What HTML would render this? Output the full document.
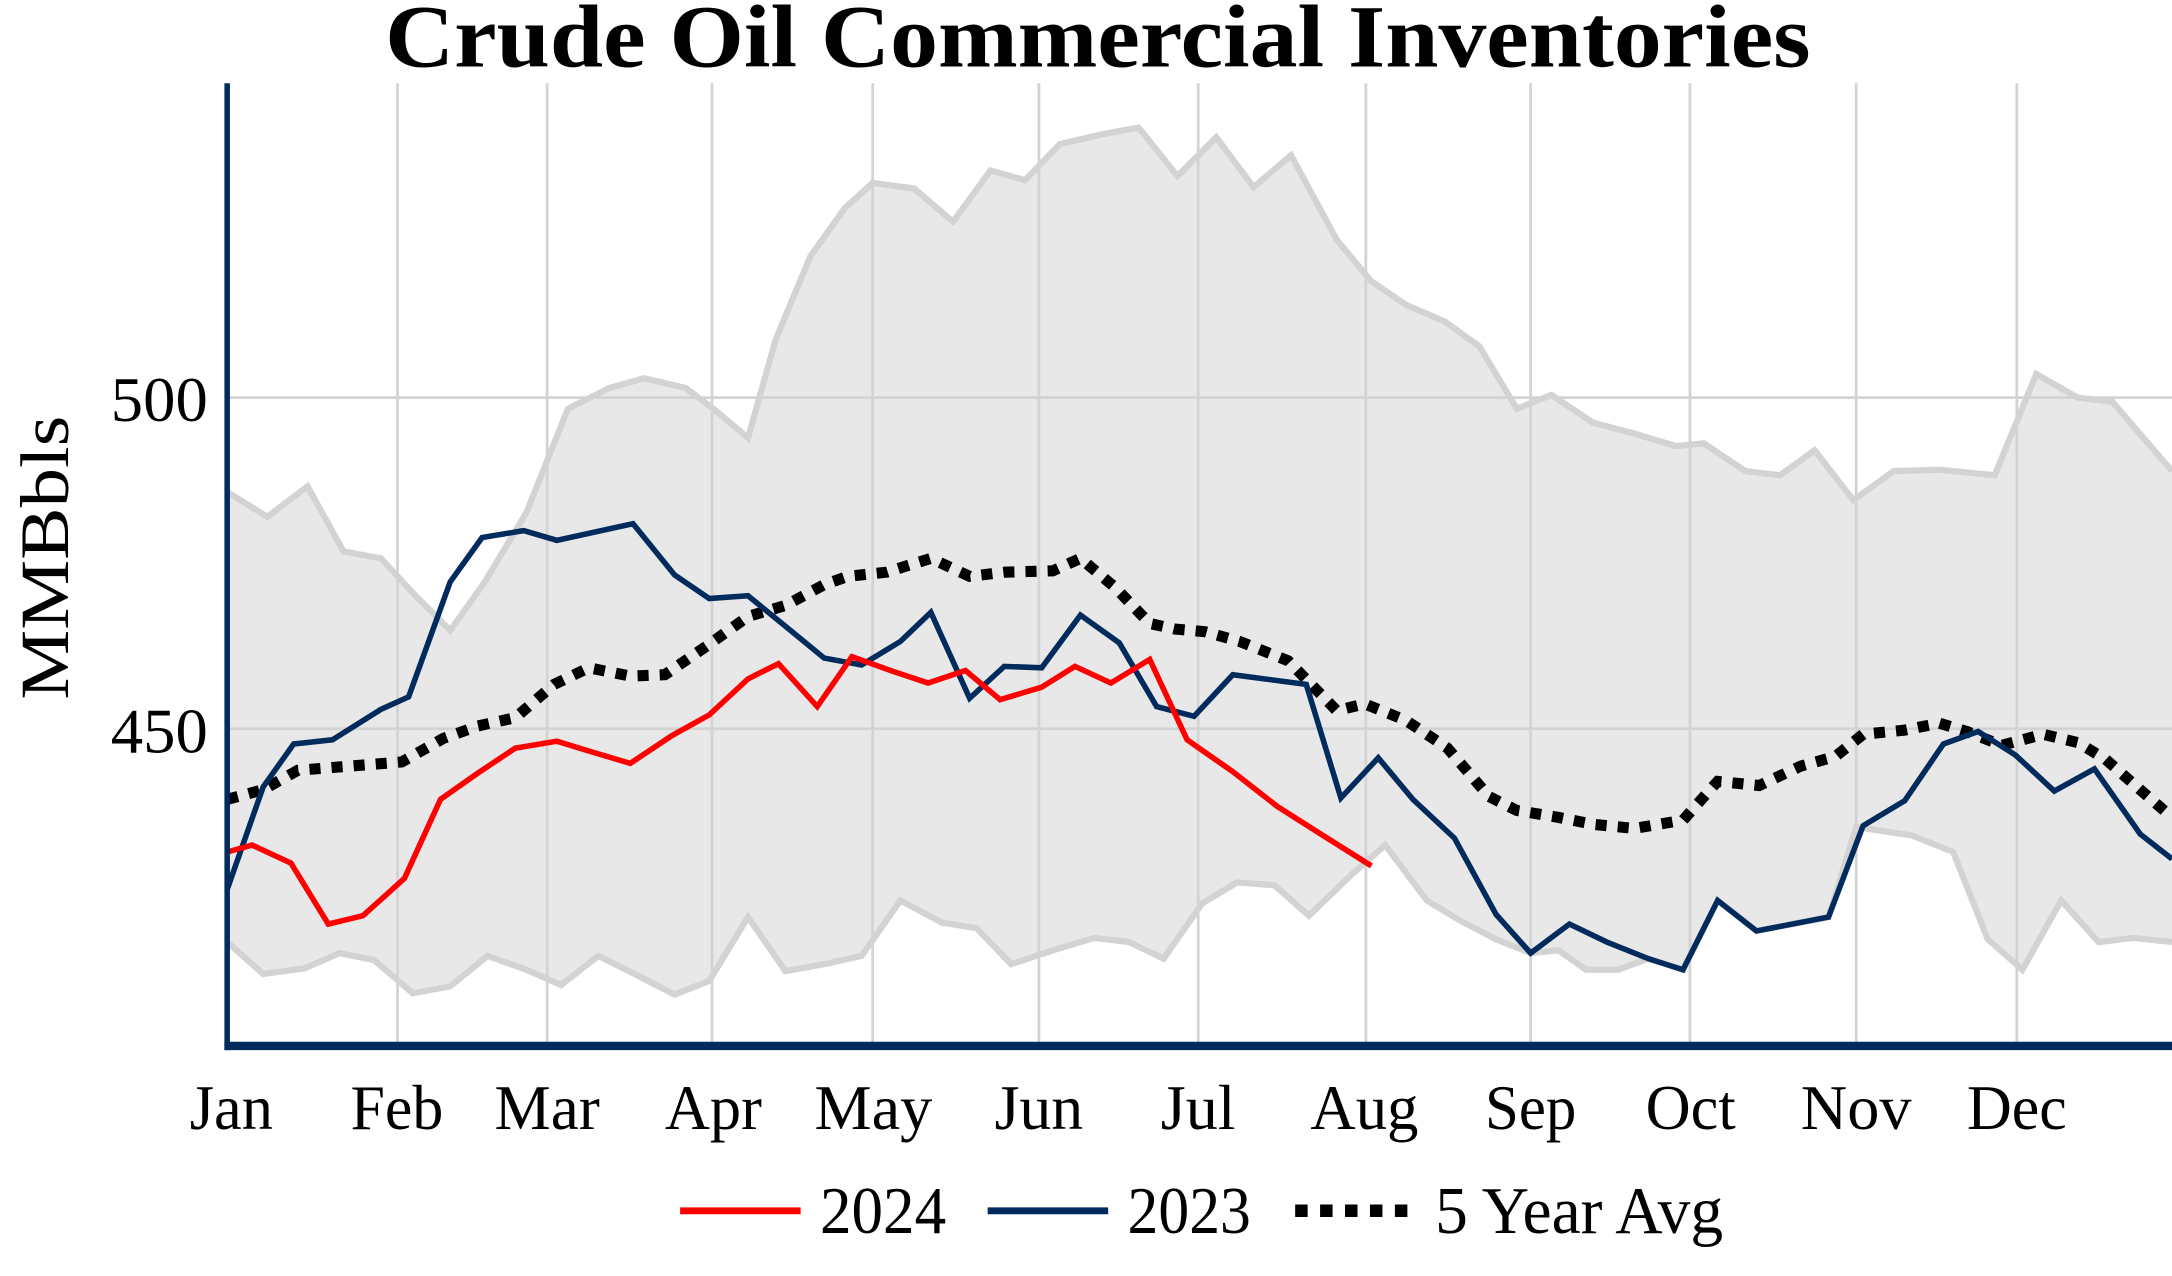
<!DOCTYPE html>
<html><head><meta charset="utf-8"><style>html,body{margin:0;padding:0;background:#fff}svg{display:block}</style></head>
<body>
<svg width="2172" height="1276" viewBox="0 0 1568 921" xmlns="http://www.w3.org/2000/svg" font-family="Liberation Serif, serif">
<rect width="1568" height="921" fill="#fff"/>
<polygon fill="#e8e8e8" points="164,355 193,373 222,351 248,398 275,403 300,430 325,455 350,420 380,370 410,295 440,280 465,273 495,280 515,295 540,316 560,245 585,185 610,150 630,132 660,136 688,160 715,123 740,130 765,104 795,97 822,92 850,127 878,99 905,135 932,112 965,173 990,203 1015,220 1043,232 1068,250 1095,295 1120,285 1150,305 1180,313 1210,322 1230,320 1260,340 1285,343 1310,325 1338,361 1367,340 1400,339 1440,343 1470,270 1500,287 1525,290 1568,340 1568,680 1540,677 1515,680 1488,650 1460,700 1435,678 1410,615 1380,603 1340,597 1320,662 1268,672 1240,650 1215,700 1190,692 1168,700 1145,700 1125,686 1105,688 1080,678 1055,665 1030,650 1000,610 975,632 945,661 920,639 893,637 868,652 840,692 815,680 790,677 760,686 730,696 705,670 680,666 650,650 622,690 595,696 567,701 540,662 512,708 487,718 460,704 432,690 405,711 380,700 352,690 325,712 298,717 270,693 245,688 220,699 190,703 164,680"/>
<g stroke="#d3d3d3" stroke-width="2">
<line x1="287" y1="60" x2="287" y2="755"/><line x1="395" y1="60" x2="395" y2="755"/><line x1="514" y1="60" x2="514" y2="755"/><line x1="630" y1="60" x2="630" y2="755"/><line x1="750" y1="60" x2="750" y2="755"/><line x1="865" y1="60" x2="865" y2="755"/><line x1="986" y1="60" x2="986" y2="755"/><line x1="1105" y1="60" x2="1105" y2="755"/><line x1="1220" y1="60" x2="1220" y2="755"/><line x1="1340" y1="60" x2="1340" y2="755"/><line x1="1456" y1="60" x2="1456" y2="755"/>
<line x1="164" y1="287" x2="1568" y2="287"/><line x1="164" y1="526" x2="1568" y2="526"/>
</g>
<g fill="none" stroke="#d3d3d3" stroke-width="4.5" stroke-linejoin="miter">
<polyline points="164,355 193,373 222,351 248,398 275,403 300,430 325,455 350,420 380,370 410,295 440,280 465,273 495,280 515,295 540,316 560,245 585,185 610,150 630,132 660,136 688,160 715,123 740,130 765,104 795,97 822,92 850,127 878,99 905,135 932,112 965,173 990,203 1015,220 1043,232 1068,250 1095,295 1120,285 1150,305 1180,313 1210,322 1230,320 1260,340 1285,343 1310,325 1338,361 1367,340 1400,339 1440,343 1470,270 1500,287 1525,290 1568,340"/>
<polyline points="164,680 190,703 220,699 245,688 270,693 298,717 325,712 352,690 380,700 405,711 432,690 460,704 487,718 512,708 540,662 567,701 595,696 622,690 650,650 680,666 705,670 730,696 760,686 790,677 815,680 840,692 868,652 893,637 920,639 945,661 975,632 1000,610 1030,650 1055,665 1080,678 1105,688 1125,686 1145,700 1168,700 1190,692 1215,700 1240,650 1268,672 1320,662 1340,597 1380,603 1410,615 1435,678 1460,700 1488,650 1515,680 1540,677 1568,680"/>
</g>
<polyline fill="none" stroke="#000" stroke-width="8" stroke-dasharray="8,8" points="164,577 190,570 215,556 240,554 290,550 320,533 345,524 372,518 400,494 425,482 455,488 480,487 512,465 540,445 567,437 595,422 612,416 640,413 672,403 700,416 725,413 760,412 780,403 805,424 830,450 848,454 870,456 895,463 930,477 965,513 985,508 1015,520 1045,540 1075,575 1095,585 1125,590 1150,595 1180,598 1215,592 1240,564 1270,567 1300,553 1325,546 1345,530 1375,527 1400,522 1420,528 1445,538 1475,530 1500,536 1520,548 1545,570 1568,590"/>
<polyline fill="none" stroke="#002b5c" stroke-width="4" points="164,642 190,568 212,537 240,534 275,512 295,503 325,420 348,388 378,383 402,390 457,378 487,415 512,432 540,430 567,452 595,475 622,480 650,463 672,442 700,504 725,481 752,482 780,444 808,464 835,510 862,517 890,487 943,494 968,576 995,547 1020,577 1050,605 1080,660 1105,688 1133,667 1160,680 1190,692 1215,700 1240,650 1268,672 1320,662 1345,596 1375,578 1403,537 1428,528 1455,545 1483,571 1512,555 1545,602 1568,620"/>
<polyline fill="none" stroke="#ff0000" stroke-width="4" points="164,615 182,610 210,623 237,667 262,661 292,634 318,577 345,558 372,540 402,535 428,543 455,551 485,531 512,516 540,490 562,479 590,510 615,474 643,484 670,493 697,484 722,505 752,496 776,481 802,493 830,476 857,534 890,557 922,582 955,603 990,625"/>
<line x1="164" y1="60" x2="164" y2="758" stroke="#002b5c" stroke-width="4"/>
<line x1="162" y1="755" x2="1568" y2="755" stroke="#002b5c" stroke-width="6"/>
<text x="278" y="48" font-weight="bold" font-size="64" textLength="1029" lengthAdjust="spacingAndGlyphs">Crude Oil Commercial Inventories</text>
<g font-size="46"><text x="80" y="304" textLength="70" lengthAdjust="spacingAndGlyphs">500</text><text x="80" y="543" textLength="70" lengthAdjust="spacingAndGlyphs">450</text></g>
<text transform="translate(49,505) rotate(-90)" font-size="50" textLength="205" lengthAdjust="spacingAndGlyphs">MMBbls</text>
<g font-size="46">
<text x="137" y="815" textLength="60" lengthAdjust="spacingAndGlyphs">Jan</text>
<text x="253" y="815" textLength="67" lengthAdjust="spacingAndGlyphs">Feb</text>
<text x="357" y="815" textLength="76" lengthAdjust="spacingAndGlyphs">Mar</text>
<text x="480" y="815" textLength="70" lengthAdjust="spacingAndGlyphs">Apr</text>
<text x="588" y="815" textLength="85" lengthAdjust="spacingAndGlyphs">May</text>
<text x="718" y="815" textLength="64" lengthAdjust="spacingAndGlyphs">Jun</text>
<text x="838" y="815" textLength="54" lengthAdjust="spacingAndGlyphs">Jul</text>
<text x="946" y="815" textLength="78" lengthAdjust="spacingAndGlyphs">Aug</text>
<text x="1072" y="815" textLength="66" lengthAdjust="spacingAndGlyphs">Sep</text>
<text x="1188" y="815" textLength="65" lengthAdjust="spacingAndGlyphs">Oct</text>
<text x="1300" y="815" textLength="80" lengthAdjust="spacingAndGlyphs">Nov</text>
<text x="1420" y="815" textLength="72" lengthAdjust="spacingAndGlyphs">Dec</text>
</g>
<line x1="491" y1="874" x2="578" y2="874" stroke="#ff0000" stroke-width="5"/>
<line x1="713" y1="874" x2="800" y2="874" stroke="#002b5c" stroke-width="5"/>
<line x1="935" y1="874" x2="1018" y2="874" stroke="#000" stroke-width="9" stroke-dasharray="9,9"/>
<g font-size="48"><text x="592" y="890" textLength="91" lengthAdjust="spacingAndGlyphs">2024</text><text x="814" y="890" textLength="89" lengthAdjust="spacingAndGlyphs">2023</text><text x="1036" y="890" textLength="208" lengthAdjust="spacingAndGlyphs">5 Year Avg</text></g>
</svg>
</body></html>
